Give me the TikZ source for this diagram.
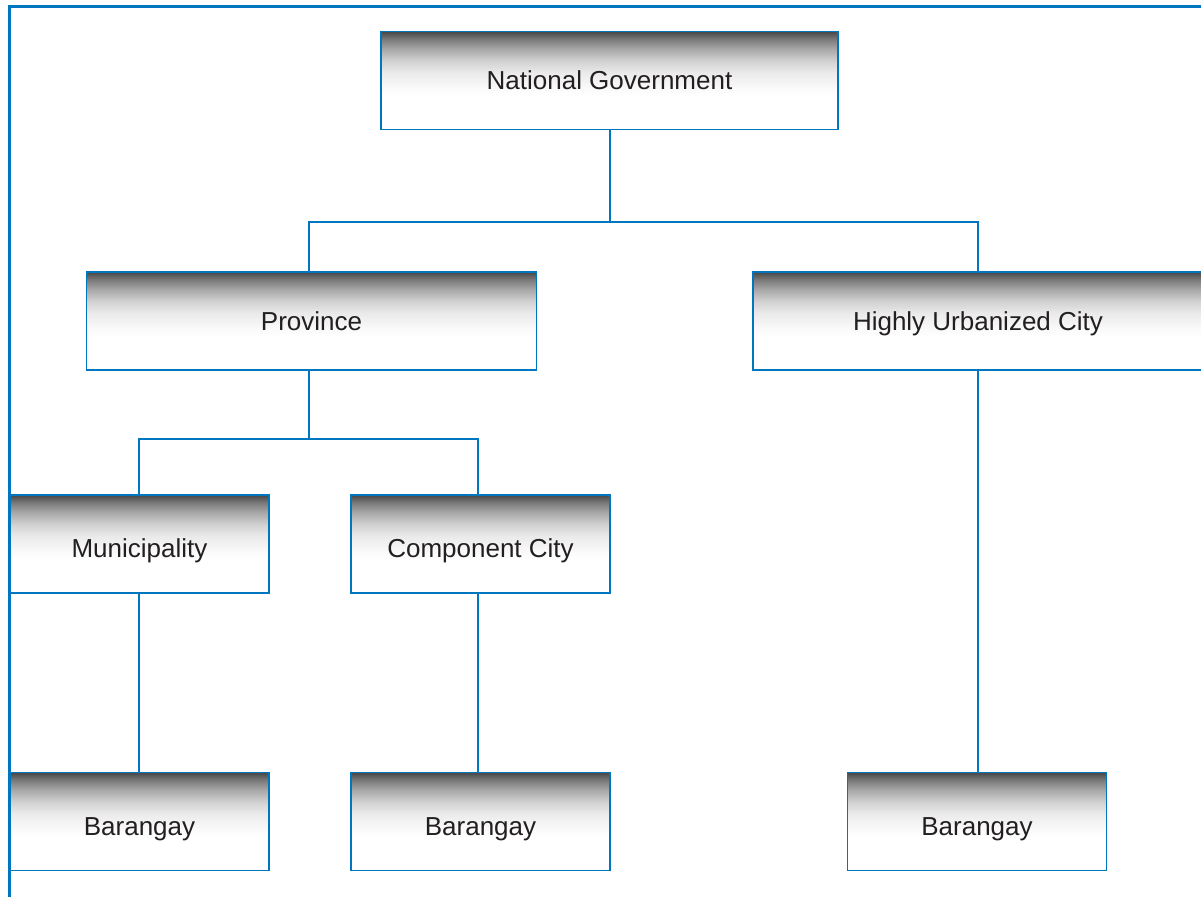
\documentclass[tikz,border=0pt]{standalone}
\usepackage{fontspec}
\setmainfont{Liberation Sans}
\definecolor{frameblue}{RGB}{0,118,192}
\definecolor{txt}{RGB}{35,31,32}
% box fill: dark band at the top fading to white
% (TikZ fits the box to the 25bp--75bp part of the shading)
\pgfdeclareverticalshading{boxshade}{100bp}{%
  color(0bp)=(white); color(25bp)=(white); color(42bp)=(white);
  color(46bp)=(black!2); color(54bp)=(black!8); color(60bp)=(black!18);
  color(66bp)=(black!34); color(71bp)=(black!52); color(75bp)=(black!72);
  color(100bp)=(black!72)}
\tikzset{
  orgbox/.style={draw=frameblue, line width=1.6pt, shading=boxshade,
    minimum height=98pt, inner sep=0pt, text=txt,
    font=\fontsize{26}{30}\selectfont, text height=18.5pt, text depth=0pt},
  wide/.style={orgbox, minimum width=450pt},
  narrow/.style={orgbox, minimum width=259pt, text height=27.5pt},
  link/.style={draw=frameblue, line width=1.8pt}
}
\begin{document}
\begin{tikzpicture}[x=1pt,y=1pt]
\useasboundingbox (0,0) rectangle (1201,-897);
% outer frame (top and left edges only)
\draw[frameblue, line width=3pt] (9,-897) -- (9,-6) -- (1201,-6);

\node[orgbox, minimum width=457pt] (ng) at (609.5,-80.5) {National Government};
\node[wide] (prov) at (311.5,-321) {Province};
\node[wide] (huc) at (978,-321) {Highly Urbanized City};
\node[narrow] (mun) at (139.5,-544) {Municipality};
\node[narrow] (cc) at (480.5,-544) {Component City};
\node[narrow] (b1) at (139.5,-821.5) {Barangay};
\node[narrow] (b2) at (480.5,-821.5) {Barangay};
\node[narrow] (b3) at (977,-821.5) {Barangay};

\coordinate (j1) at (610,-222);
\coordinate (j2) at (309,-439);
\draw[link] (ng.south -| j1) -- (j1);
\draw[link] (309,-272) |- (j1) -| (978,-272);
\draw[link] (prov.south -| j2) -- (j2);
\draw[link] (139,-495) |- (j2) -| (478,-495);
\draw[link] (mun.south -| 139,0) -- (b1.north -| 139,0);
\draw[link] (cc.south -| 478,0) -- (b2.north -| 478,0);
\draw[link] (huc.south) -- (b3.north -| huc.south);
\end{tikzpicture}
\end{document}
